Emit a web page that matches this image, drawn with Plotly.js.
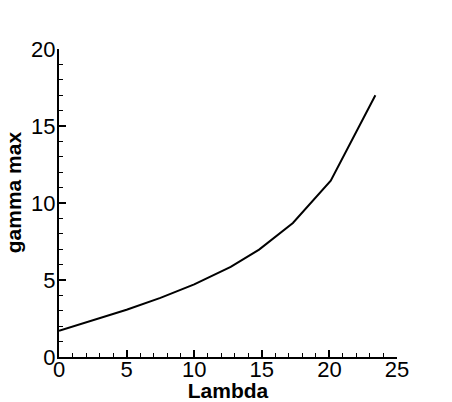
<!DOCTYPE html>
<html>
<head>
<meta charset="utf-8">
<script src="https://cdn.plot.ly/plotly-3.0.1.min.js"></script>
<style>html,body{margin:0;padding:0;background:#fff;}#chart{width:452px;height:402px;}</style>
</head>
<body>
<div id="chart"></div>
<script>
const lambdaValues = [0, 2.5, 5, 7.5, 10, 12.7, 14.8, 17.3, 20.1, 23.4];
const gammaMax = [1.7, 2.36, 3.07, 3.84, 4.72, 5.85, 6.97, 8.7, 11.45, 17.0];
const xTickVals = [0, 5, 10, 15, 20, 25];
const yTickVals = [0, 5, 10, 15, 20];
const xTitle = 'Lambda';
const yTitle = 'gamma max';

const font = 'Liberation Sans, Arial, sans-serif';
const axisCommon = {
  showgrid: false, zeroline: false, showline: true, linecolor: '#000', linewidth: 2,
  ticks: 'inside', ticklen: 7, tickwidth: 2, tickcolor: '#000',
  tickfont: {family: font, size: 22, color: '#000'},
  minor: {ticks: 'inside', ticklen: 4, tickwidth: 1, tickcolor: '#000', dtick: 1},
  tickmode: 'array', fixedrange: true
};
Plotly.newPlot('chart', [{
  x: lambdaValues, y: gammaMax, type: 'scatter', mode: 'lines',
  line: {color: '#000', width: 2}, hoverinfo: 'skip'
}], {
  width: 452, height: 402,
  margin: {l: 59, r: 55, t: 49, b: 45},
  paper_bgcolor: '#fff', plot_bgcolor: '#fff',
  showlegend: false,
  xaxis: Object.assign({}, axisCommon, {
    range: [0, 25], tickvals: xTickVals, ticktext: xTickVals.map(String),
    ticklabelstandoff: -8,
    title: {text: '<b>' + xTitle + '</b>', font: {family: font, size: 21, color: '#000'}, standoff: 2}
  }),
  yaxis: Object.assign({}, axisCommon, {
    range: [0, 20], tickvals: yTickVals, ticktext: yTickVals.map(String),
    ticklabelstandoff: -3
  }),
  annotations: [{
    text: '<b>' + yTitle + '</b>', textangle: -90, showarrow: false,
    xref: 'paper', yref: 'paper', x: -0.136, y: 0.535, xanchor: 'center', yanchor: 'middle',
    font: {family: font, size: 21, color: '#000'}
  }]
}, {staticPlot: true});
</script>
</body>
</html>
